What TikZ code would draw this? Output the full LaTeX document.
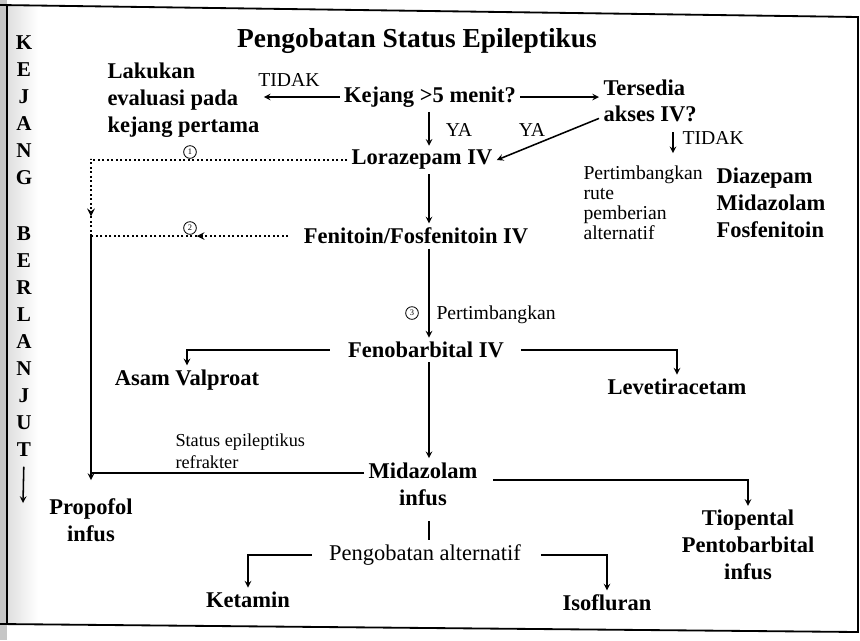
\documentclass[tikz,border=0pt]{standalone}
\usepackage{fontspec}
\setmainfont{Liberation Serif}
\usetikzlibrary{arrows}
\tikzstyle{drug} = [
    font=\bfseries\fontsize{16}{19}\selectfont,
    align=center,
    inner sep=3pt
]
\tikzstyle{note} = [
    font=\fontsize{14}{14.2}\selectfont,
    align=left,
    inner sep=3pt
]
\tikzstyle{smallnote} = [
    font=\fontsize{13}{15.5}\selectfont,
    align=left,
    inner sep=3pt
]
\tikzstyle{num} = [
    circle,
    draw,
    line width=0.6pt,
    inner sep=0pt,
    minimum size=9pt,
    font=\fontsize{6}{6}\selectfont
]
\tikzstyle{arrow} = [
    line width=1.1pt,
    ->,
    >=stealth
]
\tikzstyle{link} = [
    line width=1.1pt
]
\tikzstyle{dotline} = [
    line width=1.4pt,
    dash pattern=on 1.4pt off 1.8pt
]

\begin{document}
\begin{tikzpicture}[x=0.025cm, y=-0.025cm, >=stealth]
        \useasboundingbox (0,0) rectangle (860,640);
        % scanned page edge
        \fill[gray!45] (0,0) rectangle (7,640);
        \shade[left color=gray!25, right color=white] (7,6) rectangle (38,624);
        \draw[line width=1.3pt] (0,5) -- (858,17) -- (858,632) -- (0,624);
        \draw[line width=0.8pt] (7,5) -- (7,625);

        \coordinate (spine) at (429,0);
        \coordinate (leftline) at (91,0);

        \node (title) [drug, font=\bfseries\fontsize{19.5}{22}\selectfont] at (417,41) {Pengobatan Status Epileptikus};
        \node (kb) [drug, font=\bfseries\fontsize{15}{19.2}\selectfont, anchor=north, inner sep=0pt] at (24,35) {K\\E\\J\\A\\N\\G\\[21pt]B\\E\\R\\L\\A\\N\\J\\U\\T};
        \coordinate (kbend) at (23,503);

        \node (lakukan) [drug, align=left, anchor=west] at (103,100) {Lakukan\\evaluasi pada\\kejang pertama};
        \node (tidaka) [note] at (289,80) {TIDAK};
        \node (kejang) [drug] at (430,97) {Kejang >5 menit?};
        \node (tersedia) [drug, align=left, anchor=west] at (599,101) {Tersedia\\akses IV?};
        \node (yaa) [note] at (459,130) {YA};
        \node (yab) [note] at (532,130) {YA};
        \node (loraz) [drug] at (422,160) {Lorazepam IV};
        \coordinate (tdown) at (673,132);
        \node (tidakb) [note, anchor=west] at (678,138) {TIDAK};
        \node (rute) [note, anchor=west] at (579,203) {Pertimbangkan\\rute\\pemberian\\alternatif};
        \node (obat) [drug, align=left, anchor=west] at (712,203) {Diazepam\\Midazolam\\Fosfenitoin};

        \node (num1) [num] at (190,152) {1};
        \node (num2) [num] at (190,228) {2};
        \node (fenitoin) [drug] at (416,236) {Fenitoin/Fosfenitoin IV};
        \node (num3) [num] at (412,313) {3};
        \node (pertimb) [note, anchor=west] at (432,315) {Pertimbangkan};
        \node (feno) [drug] at (426,350) {Fenobarbital IV};
        \node (asam) [drug] at (187,380) {Asam Valproat};
        \node (leve) [drug] at (677,387) {Levetiracetam};

        \node (status) [smallnote, anchor=west] at (171,451) {Status epileptikus\\refrakter};
        \node (midaz) [drug] at (423,484) {Midazolam\\infus};
        \node (propofol) [drug] at (91,520) {Propofol\\infus};
        \node (tiop) [drug] at (748,545) {Tiopental\\Pentobarbital\\infus};
        \node (pengalt) [note, font=\fontsize{16}{19}\selectfont] at (425,555) {Pengobatan alternatif};
        \node (ketamin) [drug] at (248,600) {Ketamin};
        \node (iso) [drug] at (607,603) {Isofluran};

        \draw[arrow, shorten <=7pt] (kb.south) -- (kbend);
        \draw[arrow] (kejang.west) -- (kejang.west -| lakukan.east);
        \draw[arrow] (kejang.east) -- (kejang.east -| tersedia.west);
        \draw[arrow] (kejang.south -| spine) -- (loraz.north -| spine);
        \draw[arrow] ([yshift=6pt]tersedia.south west) -- (loraz.east);
        \draw[arrow, shorten >=6pt] (tdown) -- (tdown |- rute.north);

        \draw[dotline, ->] (loraz.west) -- (loraz.west -| leftline) -- (leftline |- num1.south) -- ([yshift=-40pt]leftline |- loraz.west);
        \draw[dotline] ([yshift=-40pt]leftline |- loraz.west) -- (leftline |- fenitoin.west);
        \draw[dotline, ->, shorten <=8pt] (fenitoin.west) -- (fenitoin.west -| num2.east);
        \draw[dotline] (fenitoin.west -| num2.east) -- (fenitoin.west -| leftline);
        \draw[link] (fenitoin.west -| leftline) -- ([yshift=8pt]midaz.west -| leftline);

        \draw[arrow] (loraz.south -| spine) -- (fenitoin.north -| spine);
        \draw[arrow] (fenitoin.south -| spine) -- (feno.north -| spine);
        \draw[arrow, shorten <=10pt] (feno.west) -| (asam.north);
        \draw[arrow, shorten <=9pt] (feno.east) -| (leve.north);
        \draw[arrow] (feno.south -| spine) -- (midaz.north -| spine);

        \draw[arrow, shorten >=10pt] ([yshift=8pt]midaz.west) -| (propofol.north);
        \draw[arrow, shorten <=8pt] ([yshift=3pt]midaz.east) -| (tiop.north);
        \draw[link, shorten <=8pt] (midaz.south -| spine) -- (pengalt.north -| spine);
        \draw[arrow, shorten <=9pt] (pengalt.west) -| (ketamin.north);
        \draw[arrow, shorten <=11pt] (pengalt.east) -| (iso.north);
    \end{tikzpicture}
\end{document}
